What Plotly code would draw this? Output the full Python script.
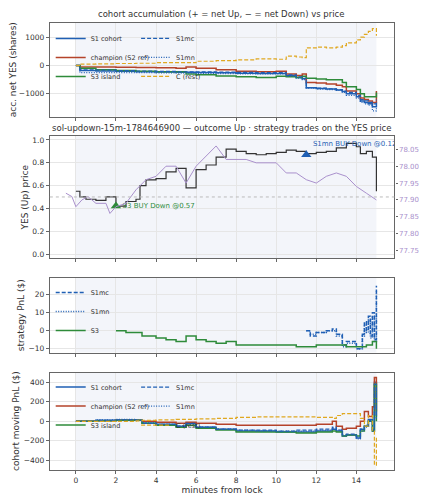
import plotly.graph_objects as go
from plotly.subplots import make_subplots

# panel 1: accumulated net YES shares
t_acc = [0, 0.2, 1, 2, 3, 4, 5, 5.5, 6, 7, 8, 9, 10, 10.5, 11, 11.3, 11.5, 12, 12.5, 13, 13.3, 13.5, 14, 14.2, 14.4, 14.6, 14.8, 15]
acc_champ = [0, -50, -50, -60, -70, -80, -100, -50, -100, -150, -200, -220, -200, -300, -350, -300, -600, -620, -650, -700, -750, -900, -1000, -1150, -1200, -1250, -1300, -900]
acc_s3 = [0, -100, -150, -180, -200, -220, -220, -300, -330, -370, -400, -420, -380, -400, -420, -380, -450, -480, -500, -500, -600, -750, -850, -1000, -1100, -1100, -1100, -950]
acc_s1mc = [0, -150, -160, -180, -200, -210, -220, -220, -220, -230, -240, -250, -250, -330, -400, -450, -780, -800, -820, -850, -900, -950, -1050, -1200, -1250, -1300, -1350, -1200]
acc_s1mn = [0, -250, -250, -250, -250, -260, -270, -270, -280, -290, -300, -300, -300, -380, -450, -500, -800, -830, -850, -880, -950, -1050, -1150, -1300, -1350, -1400, -1600, -1450]
acc_s1 = [0, -180, -190, -200, -220, -230, -240, -240, -250, -260, -270, -280, -280, -350, -420, -470, -780, -810, -830, -860, -920, -1000, -1100, -1250, -1300, -1350, -1450, -1300]
acc_c = [0, 50, 60, 70, 80, 100, 100, 100, 150, 170, 200, 230, 220, 330, 300, 280, 620, 650, 620, 650, 700, 800, 900, 1000, 1100, 1200, 1300, 1050]

# panel 2: YES price and SOL price
t_yes = [0, 0.2, 0.5, 1, 1.5, 2, 2.5, 3, 3.2, 3.5, 4, 4.5, 5, 5.5, 6, 6.5, 7, 7.5, 8, 8.5, 9, 9.5, 10, 10.5, 11, 11.5, 12, 12.5, 13, 13.5, 14, 14.2, 14.5, 14.8, 15]
yes_price = [0.55, 0.50, 0.48, 0.47, 0.50, 0.42, 0.46, 0.48, 0.60, 0.65, 0.66, 0.72, 0.75, 0.58, 0.74, 0.78, 0.85, 0.92, 0.90, 0.88, 0.87, 0.88, 0.89, 0.91, 0.90, 0.88, 0.89, 0.90, 0.93, 0.97, 0.94, 0.88, 0.90, 0.85, 0.55]
t_sol = [-0.5, -0.2, 0, 0.3, 0.6, 1, 1.5, 1.7, 2, 2.5, 3, 3.5, 4, 4.5, 5, 5.5, 6, 6.5, 7, 7.5, 8, 8.5, 9, 9.5, 10, 10.5, 11, 11.5, 12, 12.5, 13, 13.5, 14, 14.5, 15]
sol_price = [77.92, 77.91, 77.88, 77.90, 77.91, 77.89, 77.89, 77.86, 77.88, 77.89, 77.93, 77.96, 77.97, 78.00, 78.00, 77.95, 78.00, 78.03, 78.06, 78.02, 78.02, 78.02, 78.01, 78.01, 78.01, 77.98, 77.98, 77.96, 77.95, 77.97, 77.98, 77.97, 77.94, 77.92, 77.90]

# panel 3: strategy PnL
t_s3 = [2, 2.3, 2.5, 3, 3.3, 4, 4.5, 5, 5.5, 6, 6.5, 7, 7.5, 8, 9, 10, 11, 12, 13, 13.5, 14, 14.5, 14.8, 15]
pnl_s3 = [0, 0, -1, -1, -3, -4, -5, -6, -3, -5, -6, -7, -6, -8, -8, -8, -9, -8, -8, -9, -9, -8, -6, -10]
t_s1 = [11.5, 11.7, 12, 12.5, 12.8, 13, 13.3, 13.5, 14, 14.3, 14.4, 14.5, 14.6, 14.7, 14.8, 14.9, 15]
pnl_s1mc = [0, -3, -1, 0, 1, -2, -8, -6, -10, -2, 5, 0, 8, -3, 10, -5, 25]
pnl_s1mn = [0, -2, -1, 0, 0, -3, -9, -7, -10, -3, 3, -1, 6, -4, 8, -6, 22]

# panel 4: cohort moving PnL
t_mv = [0, 1, 2, 3, 3.3, 4, 5, 5.5, 6, 7, 8, 9, 10, 11, 12, 12.8, 13, 13.3, 13.5, 14, 14.2, 14.4, 14.6, 14.8, 14.9, 15]
mv_s1 = [0, 10, 10, 10, -20, -30, -50, -20, -60, -80, -100, -100, -110, -110, -100, -80, -100, -150, -140, -170, -80, -50, 20, -100, 400, 50]
mv_champ = [0, 5, 10, 10, 0, -10, -20, -10, -20, -30, -40, -40, -40, -40, -30, 0, -50, -80, -70, -50, 0, 100, 50, 150, 450, 100]
mv_s3 = [0, 5, 10, 10, -20, -40, -60, -40, -70, -90, -110, -110, -110, -120, -110, -100, -110, -150, -140, -150, -100, -50, 0, -100, 380, 0]
mv_s1mc = [0, 10, 15, 10, -20, -30, -50, -20, -60, -80, -90, -90, -100, -90, -80, -60, -90, -140, -130, -160, -80, -40, 10, -80, 380, 30]
mv_s1mn = [0, 15, 20, 10, -15, -30, -50, -30, -60, -80, -90, -100, -100, -100, -90, -70, -90, -150, -140, -180, -100, -60, 0, -100, 300, 20]
mv_c = [0, 0, 0, 5, 10, 15, 20, 20, 25, 30, 40, 45, 45, 45, 40, 30, 60, 80, 80, 80, 30, -50, 60, -100, -450, -150]

BLUE = "#1f5fb4"
RED = "#b5432a"
GREEN = "#2e8b3a"
GOLD = "#e0a820"
PURPLE = "#a990cc"
DASH = "4px,2px"
DOT = "1px,1.5px"

fig = make_subplots(rows=4, cols=1, specs=[[{}], [{"secondary_y": True}], [{}], [{}]])

def add(row, x, y, name, color, dash="solid", width=1.5, legend="legend", show=True):
    fig.add_trace(go.Scatter(x=x, y=y, mode="lines", name=name, line_shape="hv",
                             line=dict(color=color, dash=dash, width=width),
                             legend=legend, showlegend=show), row=row, col=1)

add(1, t_acc, acc_s1, "S1 cohort", BLUE)
add(1, t_acc, acc_champ, "champion (S2 ref)", RED)
add(1, t_acc, acc_s3, "S3 island", GREEN)
add(1, t_acc, acc_s1mc, "S1mc", BLUE, DASH, 1.2, "legend2")
add(1, t_acc, acc_s1mn, "S1mn", BLUE, DOT, 1.2, "legend2")
add(1, t_acc, acc_c, "C (rest)", GOLD, DASH, 1.2, "legend2")

fig.add_trace(go.Scatter(x=t_sol, y=sol_price, mode="lines", line=dict(color=PURPLE, width=1),
                         showlegend=False), row=2, col=1, secondary_y=True)
fig.add_trace(go.Scatter(x=t_yes, y=yes_price, mode="lines", line_shape="hv",
                         line=dict(color="#333", width=1.2), showlegend=False), row=2, col=1)
fig.add_trace(go.Scatter(x=[2], y=[0.42], mode="markers+text", text=["S3 BUY Down @0.57"],
                         textposition="middle right", textfont=dict(color=GREEN, size=7),
                         marker=dict(symbol="triangle-up", size=9, color=GREEN), showlegend=False), row=2, col=1)
fig.add_trace(go.Scatter(x=[11.5], y=[0.87], mode="markers+text", text=["S1mn BUY Down @0.12"],
                         textposition="top right", textfont=dict(color=BLUE, size=7),
                         marker=dict(symbol="triangle-up", size=9, color=BLUE), showlegend=False), row=2, col=1)
fig.add_hline(y=0.5, line=dict(color="#bbb", width=1, dash="dot"), row=2, col=1)

add(3, t_s1, pnl_s1mc, "S1mc", BLUE, DASH, 1.5, "legend3")
add(3, t_s1, pnl_s1mn, "S1mn", BLUE, DOT, 1.5, "legend3")
add(3, t_s3, pnl_s3, "S3", GREEN, "solid", 1.5, "legend3")

add(4, t_mv, mv_s1, "S1 cohort", BLUE, legend="legend4")
add(4, t_mv, mv_champ, "champion (S2 ref)", RED, legend="legend4")
add(4, t_mv, mv_s3, "S3 island", GREEN, legend="legend4")
add(4, t_mv, mv_s1mc, "S1mc", BLUE, DASH, 1.2, "legend5")
add(4, t_mv, mv_s1mn, "S1mn", BLUE, DOT, 1.2, "legend5")
add(4, t_mv, mv_c, "C (rest)", GOLD, DASH, 1.2, "legend5")

# shaded market window
for xref, yref in [("x", "y domain"), ("x2", "y2 domain"), ("x3", "y4 domain"), ("x4", "y5 domain")]:
    fig.add_shape(type="rect", xref=xref, yref=yref, x0=0, x1=15, y0=0, y1=1,
                  fillcolor="#eef1f8", opacity=0.7, line_width=0, layer="below")

ax = dict(showline=True, mirror=True, linecolor="#666", linewidth=1.2, gridcolor="#e6e6e6",
          zeroline=False, ticks="outside", tickcolor="#666", ticklen=3)
xd = [0.098, 0.905]
for i in [1, 2, 3, 4]:
    fig.update_xaxes(ax, row=i, col=1, domain=xd, range=[-1.3, 15.9], tickvals=[0, 2, 4, 6, 8, 10, 12, 14],
                     showticklabels=(i == 4))
fig.update_yaxes(ax)
fig.update_layout(
    yaxis=dict(domain=[0.784, 0.972], range=[-1800, 1500], tickvals=[-1000, 0, 1000],
               title=dict(text="acc. net YES (shares)", standoff=2)),
    yaxis2=dict(domain=[0.50, 0.744], range=[-0.035, 1.03], tickvals=[0, 0.2, 0.4, 0.6, 0.8, 1.0],
                tickformat=".1f", title=dict(text="YES (Up) price", standoff=2)),
    yaxis3=dict(domain=[0.50, 0.744], range=[77.728, 78.088], overlaying="y2", side="right",
                showgrid=False, tickvals=[77.75, 77.80, 77.85, 77.90, 77.95, 78.00, 78.05], tickformat=".2f",
                tickfont=dict(color=PURPLE, size=7), linecolor="#666", ticklen=2,
                title=dict(text="SOL/USD (strike dotted = YES 0.5)", font=dict(color=PURPLE, size=6), standoff=1)),
    yaxis4=dict(domain=[0.31, 0.46], range=[-12.2, 29.4], tickvals=[-10, 0, 10, 20],
                title=dict(text="strategy PnL ($)", standoff=2)),
    yaxis5=dict(domain=[0.075, 0.27], range=[-495, 500], tickvals=[-400, -200, 0, 200, 400],
                title=dict(text="cohort moving PnL ($)", standoff=2)),
    xaxis4=dict(title=dict(text="minutes from lock", standoff=1)),
)
lg = dict(bgcolor="rgba(255,255,255,0)", font=dict(size=6.5), yanchor="top", xanchor="left",
          tracegroupgap=0, itemwidth=30)
fig.update_layout(
    legend=dict(lg, x=0.1, y=0.97),
    legend2=dict(lg, x=0.3, y=0.97),
    legend3=dict(lg, x=0.1, y=0.46),
    legend4=dict(lg, x=0.1, y=0.27),
    legend5=dict(lg, x=0.3, y=0.27),
    annotations=[
        dict(text="cohort accumulation (+ = net Up, − = net Down) vs price", x=0.5, y=0.975, xref="paper",
             yref="paper", yanchor="bottom", showarrow=False, font=dict(size=8.5)),
        dict(text="sol-updown-15m-1784646900 — outcome Up · strategy trades on the YES price", x=0.5, y=0.747,
             xref="paper", yref="paper", yanchor="bottom", showarrow=False, font=dict(size=8.5)),
    ],
    width=427, height=500, margin=dict(l=0, r=0, t=0, b=0),
    plot_bgcolor="white", paper_bgcolor="white",
    font=dict(family="DejaVu Sans", size=7.5, color="#333"),
)
fig.write_html("out.html")
